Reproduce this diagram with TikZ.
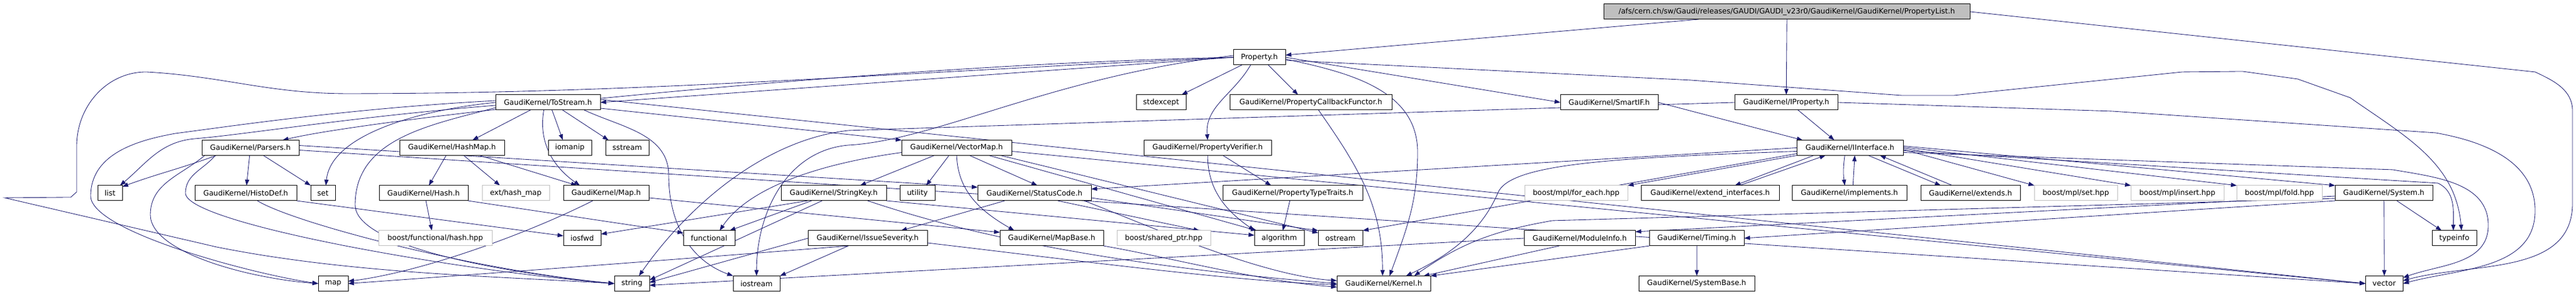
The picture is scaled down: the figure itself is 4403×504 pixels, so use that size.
\documentclass[tikz,border=0pt]{standalone}
\usepackage{fontspec}
\setmainfont{DejaVu Sans}
\usetikzlibrary{arrows.meta,backgrounds}
\definecolor{edgeblue}{RGB}{25,25,112}
\definecolor{boxgray}{RGB}{191,191,191}

\begin{document}
\begin{tikzpicture}[>={Triangle[length=1pt,width=0.72pt]}, x=1pt, y=1pt, scale=0.1,
  every node/.append style={transform shape},
  hdr/.style={draw=black, fill=white, line width=0.1pt, minimum height=26pt, inner sep=0pt, font=\fontsize{12.5}{15}\selectfont},
  syshdr/.style={hdr, draw=boxgray},
  root/.style={hdr, fill=boxgray},
  dep/.style={->, draw=edgeblue, line width=0.085pt}]

\useasboundingbox (0,0) rectangle (4403,-504);

% File principale
\node[root, minimum width=626pt] (PL) at (3054,-20) {/afs/cern.ch/sw/Gaudi/releases/GAUDI/GAUDI\_v23r0/GaudiKernel/GaudiKernel/PropertyList.h};

% Riga 1
\node[hdr, minimum width=89pt] (Prop) at (2152.5,-98) {Property.h};

% Riga 2
\node[hdr, minimum width=179pt] (ToStr) at (936.5,-175) {GaudiKernel/ToStream.h};
\node[hdr, minimum width=85pt] (StdExc) at (1984.5,-175) {stdexcept};
\node[hdr, minimum width=277pt] (PCF) at (2240.5,-175) {GaudiKernel/PropertyCallbackFunctor.h};
\node[hdr, minimum width=167pt] (SmartIF) at (2750.5,-175) {GaudiKernel/SmartIF.h};
\node[hdr, minimum width=176pt] (IProp) at (3053,-175) {GaudiKernel/IProperty.h};

% Riga 3
\node[hdr, minimum width=166pt] (Parsers) at (428,-252.5) {GaudiKernel/Parsers.h};
\node[hdr, minimum width=179pt] (HashMap) at (772.5,-252.5) {GaudiKernel/HashMap.h};
\node[hdr, minimum width=74pt] (Iomanip) at (974,-252.5) {iomanip};
\node[hdr, minimum width=74pt] (Sstream) at (1072,-252.5) {sstream};
\node[hdr, minimum width=188pt] (VecMap) at (1635,-252.5) {GaudiKernel/VectorMap.h};
\node[hdr, minimum width=218pt] (PVer) at (2064,-252.5) {GaudiKernel/PropertyVerifier.h};
\node[hdr, minimum width=182pt] (IIface) at (3162,-252.5) {GaudiKernel/IInterface.h};

% Riga 4
\node[hdr, minimum width=42pt] (List) at (188,-330) {list};
\node[hdr, minimum width=174pt] (HistoDef) at (420,-330) {GaudiKernel/HistoDef.h};
\node[hdr, minimum width=42pt] (Set) at (552,-330) {set};
\node[hdr, minimum width=152pt] (Hash) at (724,-330) {GaudiKernel/Hash.h};
\node[syshdr, minimum width=115pt] (ExtHash) at (881.5,-330) {ext/hash\_map};
\node[hdr, minimum width=146pt] (Map) at (1036,-330) {GaudiKernel/Map.h};
\node[hdr, minimum width=180pt] (StrKey) at (1425,-330) {GaudiKernel/StringKey.h};
\node[hdr, minimum width=60pt] (Utility) at (1568,-330) {utility};
\node[hdr, minimum width=194pt] (StatusCode) at (1768,-330) {GaudiKernel/StatusCode.h};
\node[hdr, minimum width=239pt] (PTT) at (2209.5,-330) {GaudiKernel/PropertyTypeTraits.h};
\node[syshdr, minimum width=176pt] (ForEach) at (2694,-330) {boost/mpl/for\_each.hpp};
\node[hdr, minimum width=236pt] (ExtIf) at (2923,-330) {GaudiKernel/extend\_interfaces.h};
\node[hdr, minimum width=196pt] (Impl) at (3161,-330) {GaudiKernel/implements.h};
\node[hdr, minimum width=170pt] (Extends) at (3368,-330) {GaudiKernel/extends.h};
\node[syshdr, minimum width=142pt] (MplSet) at (3548,-330) {boost/mpl/set.hpp};
\node[syshdr, minimum width=159pt] (MplInsert) at (3721.5,-330) {boost/mpl/insert.hpp};
\node[syshdr, minimum width=146pt] (MplFold) at (3896,-330) {boost/mpl/fold.hpp};
\node[hdr, minimum width=167pt] (System) at (4074.5,-330) {GaudiKernel/System.h};

% Riga 5
\node[syshdr, minimum width=194pt] (BHash) at (744,-407) {boost/functional/hash.hpp};
\node[hdr, minimum width=64pt] (Iosfwd) at (995,-407) {iosfwd};
\node[hdr, minimum width=88pt] (Functional) at (1212,-407) {functional};
\node[hdr, minimum width=204pt] (IssueSev) at (1483,-407) {GaudiKernel/IssueSeverity.h};
\node[hdr, minimum width=177pt] (MapBase) at (1797.5,-407) {GaudiKernel/MapBase.h};
\node[syshdr, minimum width=160pt] (SharedPtr) at (1989,-407) {boost/shared\_ptr.hpp};
\node[hdr, minimum width=85pt] (Algorithm) at (2186.5,-407) {algorithm};
\node[hdr, minimum width=76pt] (Ostream) at (2291,-407) {ostream};
\node[hdr, minimum width=190pt] (ModInfo) at (2700,-407) {GaudiKernel/ModuleInfo.h};
\node[hdr, minimum width=162pt] (Timing) at (2900,-407) {GaudiKernel/Timing.h};
\node[hdr, minimum width=76pt] (Typeinfo) at (4195,-407) {typeinfo};

% Riga 6
\node[hdr, minimum width=51pt] (StdMap) at (569.5,-484.5) {map};
\node[hdr, minimum width=60pt] (String) at (1080,-484.5) {string};
\node[hdr, minimum width=80pt] (Iostream) at (1293,-484.5) {iostream};
\node[hdr, minimum width=160pt] (Kernel) at (2365,-484.5) {GaudiKernel/Kernel.h};
\node[hdr, minimum width=198pt] (SysBase) at (2900,-484.5) {GaudiKernel/SystemBase.h};
\node[hdr, minimum width=64pt] (Vector) at (4075,-484.5) {vector};

\begin{scope}[on background layer]
% PropertyList.h
\draw[dep] (PL) -- (Prop);
\draw[dep] (PL.south) -- (IProp.north);
\draw[dep] (PL.east) -- (4333,-123) to[out=-25,in=90] (4397,-190) -- (4397,-347) to[out=-90,in=15] ([yshift=5pt]Vector.east);

% Property.h
\draw[dep] (Prop.west) -- (ToStr.east);
\draw[dep] (Prop.west) .. controls (1500,-110) and (650,-200) .. ([xshift=55pt]Parsers.north);
\draw[dep] (Prop.west) .. controls (1500,-125) and (1100,-160) .. (593,-160) .. controls (460,-160) and (380,-130) .. (250,-123)
  to[out=180,in=90] (131,-250) -- (131,-328) -- (121,-337) -- (8,-338) -- (370,-422)
  .. controls (600,-468) and (850,-472) .. (String.west);
\draw[dep] ([xshift=-30pt]Prop.south) -- ([xshift=35pt]StdExc.north);
\draw[dep] ([xshift=-15pt]Prop.south) to[out=-120,in=95] (PVer.north);
\draw[dep] ([xshift=15pt]Prop.south) -- ([xshift=-22pt]PCF.north);
\draw[dep] (Prop.east) -- (SmartIF.west);
\draw[dep] ([yshift=-3pt]Prop.east) to[out=-12,in=90] (2423,-260) to[out=-90,in=70] ([xshift=10pt]Kernel.north);
\draw[dep] ([yshift=-5pt]Prop.east) -- (2890,-137) -- (3250,-163) -- (3340,-163) -- (3730,-123) -- (3833,-122)
  -- (3927,-135) -- (4017,-167) to[out=-35,in=95] ([xshift=12pt]Typeinfo.north);
\draw[dep] ([yshift=3pt]Prop.west) .. controls (1800,-130) and (1600,-240) .. (1450,-248) to[out=185,in=90] (Iostream.north);

% ToStream.h
\draw[dep] ([xshift=-30pt]ToStr.south) -- ([xshift=35pt]HashMap.north);
\draw[dep] ([xshift=7pt]ToStr.south) -- ([xshift=-12pt]Iomanip.north);
\draw[dep] ([xshift=25pt]ToStr.south) -- ([xshift=-32pt]Sstream.north);
\draw[dep] ([xshift=-7pt]ToStr.south) to[out=-100,in=145] ([xshift=-45pt]Map.north);
\draw[dep] ([yshift=-10pt]ToStr.east) -- (VecMap.north west);
\draw[dep] ([xshift=62pt]ToStr.south) to[out=-25,in=90] (1143,-300) to[out=-90,in=160] (Iostream.north west);
\draw[dep] (ToStr.west) .. controls (700,-190) and (565,-235) .. ([xshift=5pt]Set.north);
\draw[dep] ([yshift=-5pt]ToStr.west) .. controls (600,-200) and (420,-230) .. (333,-237) to[out=185,in=40] ([xshift=-4pt]List.north east);
\draw[dep] ([yshift=3pt]ToStr.west) .. controls (600,-185) and (400,-215) .. (300,-228) to[out=190,in=90] (155,-335)
  .. controls (155,-395) and (430,-468) .. (StdMap.west);
\draw[dep] ([yshift=-9pt]ToStr.west) to[out=195,in=90] (607,-350) .. controls (607,-420) and (850,-465) .. (String.west);
\draw[dep] ([yshift=5pt]ToStr.east) -- (Vector.west);

% Parsers.h
\draw[dep] (Parsers) -- (HistoDef);
\draw[dep] ([xshift=22pt]Parsers.south) -- (Set.north west);
\draw[dep] ([xshift=-58pt]Parsers.south) to[out=200,in=20] ([yshift=-2pt]List.north east);
\draw[dep] ([xshift=-78pt]Parsers.south) to[out=-140,in=90] (257,-367) .. controls (257,-430) and (420,-475) .. (StdMap.west);
\draw[dep] ([xshift=-60pt]Parsers.south) to[out=-130,in=90] (317,-330) .. controls (317,-380) and (760,-460) .. (String.west);
\draw[dep] ([yshift=4pt]Parsers.east) -- ([yshift=-3pt]StatusCode.north west);
\draw[dep] ([yshift=-4pt]Parsers.east) -- (Vector.west);

% HistoDef.h
\draw[dep] (HistoDef.south east) -- ([yshift=4pt]Iosfwd.west);
\draw[dep] ([xshift=20pt]HistoDef.south) .. controls (500,-380) and (800,-460) .. (String.west);

% HashMap.h e Hash.h
\draw[dep] ([xshift=-10pt]HashMap.south) -- ([xshift=9pt]Hash.north);
\draw[dep] ([xshift=20pt]HashMap.south) -- ([xshift=-27pt]ExtHash.north);
\draw[dep] ([xshift=47pt]HashMap.south) -- ([xshift=-50pt]Map.north);
\draw[dep] ([xshift=4pt]Hash.south) -- ([xshift=-6pt]BHash.north);
\draw[dep] (Hash.south east) -- ([yshift=9pt]Functional.west);

% Map.h
\draw[dep] ([yshift=-8pt]Map.east) -- ([yshift=10pt]MapBase.west);
\draw[dep] ([xshift=-23pt]Map.south) .. controls (900,-400) and (720,-465) .. ([yshift=4pt]StdMap.east);

% VectorMap.h
\draw[dep] ([xshift=-38pt]VecMap.south) -- ([xshift=45pt]StrKey.north);
\draw[dep] ([xshift=-13pt]VecMap.south) -- ([xshift=15pt]Utility.north);
\draw[dep] ([xshift=22pt]VecMap.south) -- ([xshift=5pt]StatusCode.north);
\draw[dep] (VecMap.south) to[out=-88,in=150] ([xshift=-64pt]MapBase.north);
\draw[dep] ([yshift=-8pt]VecMap.west) .. controls (1400,-280) and (1280,-320) .. ([xshift=18pt]Functional.north);
\draw[dep] ([xshift=55pt]VecMap.south) -- ([xshift=4pt]Algorithm.north west);
\draw[dep] ([xshift=75pt]VecMap.south) -- ([yshift=-4pt]Ostream.north west);
\draw[dep] ([yshift=-6pt]VecMap.east) -- (Vector.west);

% StringKey.h
\draw[dep] ([xshift=-45pt]StrKey.south) -- ([yshift=7pt]Iosfwd.east);
\draw[dep] ([xshift=-38pt]StrKey.south) -- ([xshift=35pt]Functional.north);
\draw[dep] ([xshift=-20pt]StrKey.south) -- ([yshift=6pt]String.east);
\draw[dep] ([xshift=58pt]StrKey.south) .. controls (1580,-375) and (1800,-445) .. (Kernel.west);
\draw[dep] (StrKey.south east) -- ([yshift=5pt]Algorithm.west);

% StatusCode.h
\draw[dep] ([xshift=-51pt]StatusCode.south) -- ([xshift=57pt]IssueSev.north);
\draw[dep] ([xshift=40pt]StatusCode.south) -- ([xshift=61pt]SharedPtr.north);
\draw[dep] ([yshift=-8pt]StatusCode.east) -- (Ostream.north west);
\draw[dep] ([xshift=85pt]StatusCode.south) .. controls (1950,-380) and (2150,-470) .. ([yshift=5pt]Kernel.west);

% IssueSeverity.h e MapBase.h
\draw[dep] ([xshift=-33pt]IssueSev.south) .. controls (1200,-440) and (800,-470) .. (StdMap.east);
\draw[dep] (IssueSev.west) -- ([yshift=2pt]String.east);
\draw[dep] ([xshift=-33pt]IssueSev.south) -- (Iostream.north east);
\draw[dep] ([yshift=-8pt]IssueSev.east) .. controls (1800,-440) and (2100,-480) .. ([yshift=-2pt]Kernel.west);
\draw[dep] (MapBase.south east) .. controls (2000,-440) and (2150,-480) .. ([yshift=-6pt]Kernel.west);

% PropertyVerifier.h, PropertyTypeTraits.h, PropertyCallbackFunctor.h
\draw[dep] ([xshift=26pt]PVer.south) -- ([xshift=-37pt]PTT.north);
\draw[dep] (PVer.south) to[out=-90,in=145] (Algorithm.north west);
\draw[dep] ([xshift=-5pt]PTT.south) -- ([xshift=6pt]Algorithm.north);
\draw[dep] ([xshift=13pt]PCF.south) to[out=-55,in=90] ([xshift=-2pt]Kernel.north);

% SmartIF.h e IProperty.h
\draw[dep] (SmartIF.east) -- ([xshift=10pt]IIface.north west);
\draw[dep] ([xshift=20pt]IProp.south) -- ([xshift=-27pt]IIface.north);
\draw[dep] (IProp.east) -- (3610,-190) -- (4163,-227) to[out=-10,in=90] (4333,-360) to[out=-90,in=15] (Vector.east);
\draw[dep] (IProp.west) .. controls (2300,-195) and (1700,-215) .. (1450,-223) .. controls (1300,-240) and (1170,-360) .. ([xshift=12pt]String.north);

% IInterface.h
\draw[dep] ([xshift=-62pt]IIface.south) -- ([xshift=42pt]ExtIf.north);
\draw[dep] ([xshift=50pt]ExtIf.north) -- ([xshift=-42pt]IIface.south);
\draw[dep] ([xshift=-9pt]IIface.south) to[bend right=8] ([xshift=-8pt]Impl.north);
\draw[dep] ([xshift=6pt]Impl.north) -- ([xshift=8pt]IIface.south);
\draw[dep] ([xshift=31pt]IIface.south) -- ([xshift=-51pt]Extends.north);
\draw[dep] ([xshift=-31pt]Extends.north) -- ([xshift=51pt]IIface.south);
\draw[dep] (IIface.south west) -- (ForEach.north east);
\draw[dep] ([yshift=-3pt]IIface.east) -- (MplSet.north west);
\draw[dep] ([yshift=-1pt]IIface.east) -- (MplInsert.north west);
\draw[dep] ([yshift=1pt]IIface.east) -- (MplFold.north west);
\draw[dep] ([yshift=3pt]IIface.east) -- (System.north west);
\draw[dep] (IIface.west) -- ([yshift=7pt]StatusCode.east);
\draw[dep] ([yshift=-6pt]IIface.west) .. controls (2750,-270) and (2580,-280) .. (2560,-330) .. controls (2530,-400) and (2470,-440) .. ([xshift=38pt]Kernel.north);
\draw[dep] ([yshift=-10pt]IIface.west) -- (Ostream.north east);
\draw[dep] ([yshift=-5pt]IIface.east) -- (4167,-313) to[out=-25,in=90] ([xshift=-2pt]Typeinfo.north);
\draw[dep] ([yshift=-8pt]IIface.east) -- (4090,-290) to[out=-10,in=90] (4253,-385) to[out=-90,in=20] ([yshift=10pt]Vector.east);

% System.h, ModuleInfo.h, Timing.h
\draw[dep] (System.south) -- (Vector.north);
\draw[dep] ([xshift=22pt]System.south) -- ([xshift=-22pt]Typeinfo.north);
\draw[dep] ([yshift=-5pt]System.west) -- ([yshift=-2pt]ModInfo.north east);
\draw[dep] (System.south west) -- (Timing.east);
\draw[dep] ([yshift=4pt]System.south west) -- (2653,-377) to[out=190,in=35] ([xshift=52pt]Kernel.north);
\draw[dep] ([xshift=-35pt]ModInfo.south) -- ([xshift=68pt]Kernel.north);
\draw[dep] (ModInfo.west) -- ([yshift=-3pt]String.east);
\draw[dep] (Timing) -- (SysBase);
\draw[dep] (Timing.south west) -- (Kernel.north east);
\end{scope}

\end{tikzpicture}
\end{document}
